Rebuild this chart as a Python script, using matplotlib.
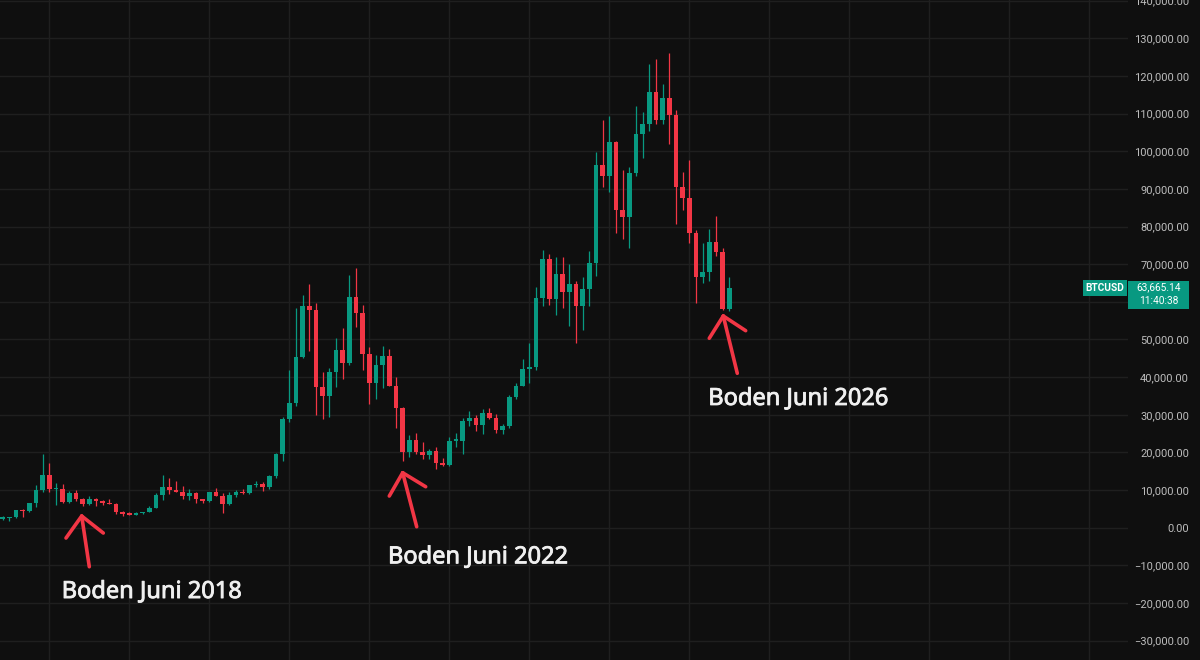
import numpy as np
import matplotlib
matplotlib.use("Agg")
import matplotlib.pyplot as plt
import matplotlib.patheffects as pe
from matplotlib.lines import Line2D
from matplotlib.patches import Rectangle
from matplotlib.transforms import IdentityTransform

# ---------------- data (monthly BTCUSD candles) ----------------
months = (
    [f"2017-{m:02d}" for m in range(6, 13)]
    + [f"{y}-{m:02d}" for y in range(2018, 2026) for m in range(1, 13)]
    + [f"2026-{m:02d}" for m in range(1, 8)]
)

opens = [
    2420, 2480, 2875, 4735, 4360, 6450, 9950,
    13880, 10200, 10330, 6920, 9240, 7500, 6390, 7730, 7030, 6630, 6370, 4040,
    3740, 3460, 3820, 4100, 5320, 8560, 10820, 10080, 9600, 8290, 9150, 7540,
    7190, 9350, 8540, 6410, 8630, 9450, 9140, 11340, 11650, 10780, 13800, 19700,
    28990, 33110, 45240, 58800, 57720, 37300, 35040, 41460, 47130, 43820, 61300, 57000,
    46200, 38480, 43190, 45540, 37640, 31800, 19980, 23300, 20050, 19430, 20490, 17170,
    16540, 23140, 23150, 28470, 29260, 27220, 30470, 29230, 25940, 26960, 34640, 37720,
    42260, 42580, 61130, 71300, 60640, 67490, 62680, 64620, 58970, 63330, 70220, 96400,
    93430, 102400, 84350, 82550, 94200, 104600, 107150, 115750, 108250, 114050, 109600, 90400,
    87500, 78200, 66600, 68000, 76000, 73300, 58000,
]
highs = [
    2980, 2920, 4760, 4980, 6470, 11400, 19700,
    17250, 11800, 11700, 9750, 10000, 7780, 8500, 7760, 7400, 7680, 6590, 4380,
    4110, 4200, 4140, 5640, 9100, 13880, 13200, 12330, 10950, 10370, 9520, 7750,
    9580, 10500, 9190, 9470, 10070, 10390, 11430, 12470, 12090, 14100, 19870, 29300,
    41950, 58330, 61780, 64850, 59590, 41330, 42320, 50500, 52950, 67000, 69000, 59100,
    47990, 45800, 48200, 47450, 40000, 31980, 24670, 25200, 22800, 21000, 21470, 18400,
    23960, 25250, 29200, 31000, 29850, 31440, 31800, 30200, 27500, 35200, 38400, 44700,
    48970, 64000, 73800, 72800, 72000, 72000, 70000, 65600, 66500, 73600, 99800, 108350,
    109350, 102750, 95000, 95750, 111900, 110500, 123200, 124450, 117900, 126200, 111000, 94600,
    97600, 79000, 75700, 79300, 82800, 74200, 66700,
]
lows = [
    2100, 1830, 2670, 2970, 4110, 5550, 9400,
    9400, 5900, 6600, 6580, 7000, 5780, 6100, 5880, 6100, 6200, 3600, 3150,
    3350, 3380, 3700, 4050, 5280, 7450, 9080, 9360, 7710, 7300, 6520, 6430,
    6870, 8450, 3850, 6150, 8130, 8900, 8980, 10930, 9820, 10380, 13200, 17600,
    28130, 32300, 45000, 47000, 30000, 28800, 29300, 37330, 39600, 43300, 53250, 42000,
    32900, 34300, 37200, 37700, 26600, 17600, 18780, 19600, 18150, 18200, 15480, 16300,
    16500, 21400, 19550, 26950, 25800, 24800, 28850, 25150, 24900, 26550, 34100, 37600,
    38550, 41880, 59000, 59200, 56550, 58400, 53500, 49000, 52550, 58900, 66800, 90500,
    89200, 78200, 76600, 74400, 93400, 98200, 105300, 107300, 107250, 102000, 80600, 84400,
    75500, 59800, 64900, 65600, 72200, 57800, 57600,
]
closes = [
    2480, 2875, 4735, 4360, 6450, 9950, 13880,
    10200, 10330, 6920, 9240, 7500, 6390, 7730, 7030, 6630, 6370, 4040, 3740,
    3460, 3820, 4100, 5320, 8560, 10820, 10080, 9600, 8290, 9150, 7540, 7190,
    9350, 8540, 6410, 8630, 9450, 9140, 11340, 11650, 10780, 13800, 19700, 28990,
    33110, 45240, 58800, 57720, 37300, 35040, 41460, 47130, 43820, 61300, 57000, 46200,
    38480, 43190, 45540, 37640, 31800, 19980, 23300, 20050, 19430, 20490, 17170, 16540,
    23140, 23150, 28470, 29260, 27220, 30470, 29230, 25940, 26960, 34640, 37720, 42260,
    42580, 61130, 71300, 60640, 67490, 62680, 64620, 58970, 63330, 70220, 96400, 93430,
    102400, 84350, 82550, 94200, 104600, 107150, 115750, 108250, 114050, 109600, 90400, 87500,
    78200, 66600, 68000, 76000, 73300, 58000, 63665.14,
]

y_ticks = list(range(-30000, 140001, 10000))
ticker = "BTCUSD"
last_price_text = "63,665.14"
countdown_text = "11:40:38"
bottom_labels = ["Boden Juni 2018", "Boden Juni 2022", "Boden Juni 2026"]
bottom_months = ["2018-06", "2022-06", "2026-06"]

# ---------------- style ----------------
BG = "#0f0f0f"
GRID = "#1f1f1f"
UP = "#089981"
DOWN = "#f23645"
AXTXT = "#bdbdbd"
TXT = "#f0f0f0"
plt.rcParams["font.family"] = ["Roboto", "DejaVu Sans"]

W, H = 1200, 660
fig = plt.figure(figsize=(W / 100, H / 100), dpi=100, facecolor=BG)
ax = fig.add_axes([0, 0, 1128 / W, 1])
ax.set_facecolor(BG)
for s in ax.spines.values():
    s.set_visible(False)

n = len(months)
x = np.arange(n)
o = np.array(opens, float)
h = np.array(highs, float)
l = np.array(lows, float)
c = np.array(closes, float)
up = c >= o
cols = np.where(up, UP, DOWN)

ax.set_xlim(-0.405, 168.8)
ax.set_ylim(-35140, 140160)

# grid
jan_idx = [i for i, m in enumerate(months) if m.endswith("-01")]
step = 12
extra = list(range(jan_idx[-1] + step, 170, step))
ax.set_xticks(jan_idx + extra)
ax.set_xticklabels([])
ax.tick_params(axis="x", length=0)
ax.set_yticks(y_ticks)
ax.grid(True, color=GRID, linewidth=1.0, zorder=0)

# candles
ax.vlines(x, l, h, colors=cols, linewidth=0.9, zorder=2)
px_per_price = (ax.transData.transform((0, 1000))[1] - ax.transData.transform((0, 0))[1]) / 1000
min_h = 1.2 / px_per_price
body_b = np.minimum(o, c)
body_h = np.maximum(np.abs(c - o), min_h)
ax.bar(x, body_h, bottom=body_b, width=0.7, color=cols, linewidth=0, zorder=3)

# y axis labels on right
ax.yaxis.tick_right()
ax.set_yticklabels([f"{v:,.2f}".replace("-", "\u2212") for v in y_ticks])
ax.tick_params(axis="y", length=0, pad=43.9, labelsize=8, labelcolor=AXTXT)
for lbl in ax.get_yticklabels():
    lbl.set_horizontalalignment("right")

# annotations: arrows + text (offsets in pixels, y downward)
arrow_geo = [
    # tip, tail, left arm, right arm, text
    ((-1, 10.1), (6.6, 60.8), (-16.7, 32.1), (20.6, 27.1), (-21, 92.1)),
    ((0, 11.3), (14, 65.3), (-13.4, 34.6), (23, 25.3), (-14.7, 101.9)),
    ((0.6, 5.9), (14.6, 63.2), (-13.4, 28.2), (23, 20.6), (-14.4, 94.9)),
]
for label, mon, geo in zip(bottom_labels, bottom_months, arrow_geo):
    i = months.index(mon)
    ax_x, ax_y = ax.transData.transform((i, lows[i]))
    tip, tail, la, ra, txt = geo
    tx, ty = ax_x + tip[0], ax_y - tip[1]
    for end in (tail, la, ra):
        ln = Line2D([tx, ax_x + end[0]], [ty, ax_y - end[1]], transform=IdentityTransform(),
                    color=DOWN, linewidth=2.6, solid_capstyle="round", zorder=6)
        fig.add_artist(ln)
    t = fig.text(ax_x + txt[0], ax_y - txt[1], label, transform=IdentityTransform(),
                 ha="left", va="baseline", fontsize=17, color=TXT,
                 family=["Noto Sans", "DejaVu Sans"], zorder=7)
    t.set_path_effects([pe.withStroke(linewidth=0.6, foreground=TXT)])

# price tag
_, py = ax.transData.transform((0, closes[-1]))
fig.add_artist(Rectangle((1083, py - 8), 44, 16, transform=IdentityTransform(),
                         facecolor=UP, edgecolor="none", zorder=8))
fig.text(1105, py, ticker, transform=IdentityTransform(), ha="center", va="center",
         fontsize=7.3, color="white", fontweight="bold", zorder=9)
fig.add_artist(Rectangle((1128, py - 21), 61, 28, transform=IdentityTransform(),
                         facecolor=UP, edgecolor="none", zorder=8))
fig.text(1159, py + 1, last_price_text, transform=IdentityTransform(), ha="center", va="center",
         fontsize=7.3, color="white", zorder=9)
fig.text(1159, py - 13, countdown_text, transform=IdentityTransform(), ha="center", va="center",
         fontsize=7.3, color="white", zorder=9)

fig.savefig("out.png", dpi=100, facecolor=BG)
